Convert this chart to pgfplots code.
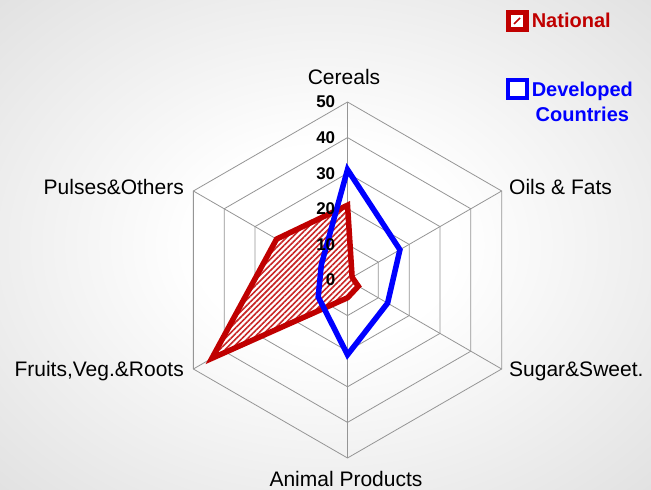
\documentclass[border=0pt]{standalone}
\usepackage{pgfplots}
\pgfplotsset{compat=1.18}
\usepackage{fontspec}
\setmainfont{Liberation Sans}
\usetikzlibrary{patterns.meta}
\definecolor{natred}{HTML}{C00000}
\definecolor{devblue}{HTML}{0000FF}
\definecolor{gridgray}{HTML}{959595}
\pgfdeclareradialshading{bgshade}{\pgfpoint{0bp}{0bp}}{color(0bp)=(white); color(10bp)=(white); color(50bp)=(black!18); color(72bp)=(black!21)}
\begin{document}
\begin{tikzpicture}[x=1bp,y=1bp]
\shade[shading=bgshade] (0,0) rectangle (651,490);
\begin{axis}[
  at={(347.5bp,210bp)}, anchor=center,
  x=3.56bp, y=3.56bp,
  xmin=-55, xmax=55, ymin=-55, ymax=55,
  hide axis, clip=false,
  legend style={at={(axis cs:44.6,75.8)}, anchor=north west, draw=none, fill=none,
    inner sep=0pt, outer sep=0pt, row sep=45bp, column sep=1bp,
    font=\fontsize{20bp}{25bp}\selectfont\bfseries, cells={anchor=base west}},
]
% grid rings
\pgfplotsinvokeforeach{10,20,30,40,50}{
  \addplot[gridgray, line width=0.8bp, data cs=polar, forget plot]
    coordinates {(90,#1) (30,#1) (-30,#1) (-90,#1) (-150,#1) (150,#1)} -- cycle;
}
% spokes
\pgfplotsinvokeforeach{90,30,-30,-90,-150,150}{
  \addplot[gridgray, line width=0.8bp, data cs=polar, forget plot]
    coordinates {(#1,0) (#1,50)};
}
% National: hatched fill
\addplot[draw=none, preaction={fill=white}, pattern={Lines[angle=45,distance=4bp,line width=1.6bp]}, pattern color=natred!85, data cs=polar, forget plot]
  coordinates {(90,21) (30,1.5) (-30,3.5) (-90,5) (-150,44) (150,23)} -- cycle;
% National outline
\addplot[natred, line width=5.5bp, line join=miter, data cs=polar,
  legend image code/.code={
    \fill[natred] (0bp,-1bp) rectangle (17bp,15bp);
    \fill[white] (5bp,4bp) rectangle (11bp,10bp);
    \draw[natred, line width=1.6bp] (5bp,4bp) -- (11bp,10bp);
  }]
  coordinates {(90,21) (30,1.5) (-30,3.5) (-90,5) (-150,44) (150,23)} -- cycle;
\addlegendentry{\textcolor{natred}{National}}
% Developed countries
\addplot[devblue, line width=5.5bp, line join=miter, data cs=polar,
  legend image code/.code={
    \fill[devblue] (0bp,-1bp) rectangle (17bp,15bp);
    \fill[white] (4bp,3bp) rectangle (13bp,11bp);
  }]
  coordinates {(90,31) (30,17) (-30,13) (-90,21) (-150,9.5) (150,8.5)} -- cycle;
\addlegendentry{\textcolor{devblue}{\begin{tabular}[t]{@{}c@{}}Developed\\Countries\end{tabular}}}
% radial tick labels
\pgfplotsinvokeforeach{0,10,20,30,40,50}{
  \node[anchor=east, inner sep=0pt, font=\fontsize{17bp}{20bp}\selectfont\bfseries] at (axis cs:-3.4,#1) {#1};
}
\end{axis}
\begin{scope}[every node/.style={inner sep=0pt, font=\fontsize{21bp}{25bp}\selectfont}]
\node[anchor=base] at (344,405) {Cereals};
\node[anchor=base west] at (509,295) {Oils \& Fats};
\node[anchor=base west] at (509,113) {Sugar\&Sweet.};
\node[anchor=base] at (346,3) {Animal Products};
\node[anchor=base east] at (184,295) {Pulses\&Others};
\node[anchor=base east] at (184,113) {Fruits,Veg.\&Roots};
\end{scope}
\pgfresetboundingbox
\useasboundingbox (0,0) rectangle (651,490);
\end{tikzpicture}
\end{document}
